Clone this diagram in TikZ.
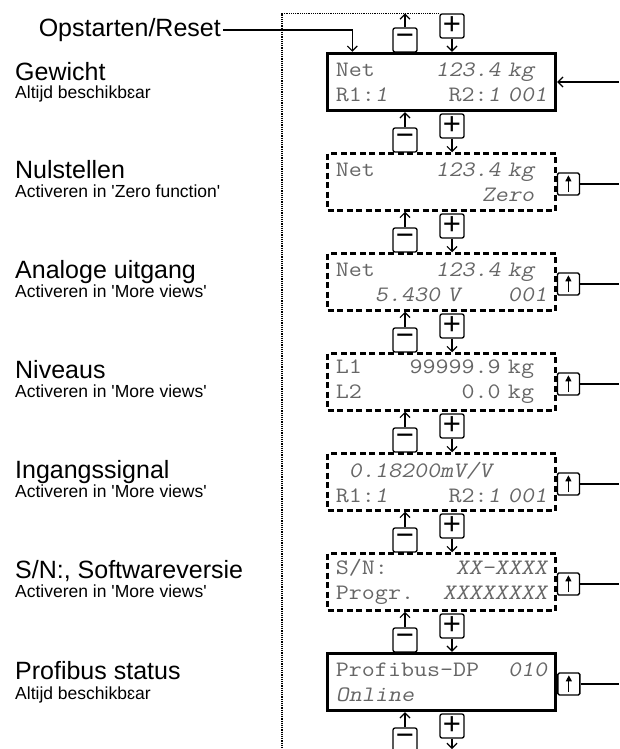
\documentclass[tikz,border=0pt]{standalone}
\usepackage{fontspec}
\setmainfont{Liberation Sans}
\setmonofont{Latin Modern Mono}[FakeStretch=1.15,
  ItalicFont=Latin Modern Mono, ItalicFeatures={FakeSlant=0.2}]
\usetikzlibrary{arrows.meta}
\newcommand{\lcdfont}{\fontsize{22}{25}\selectfont\ttfamily}
\newcommand{\titlefont}{\fontsize{25}{28}\selectfont}
\newcommand{\descfont}{\fontsize{17.5}{20}\selectfont}
\newcommand{\q}{\textquotesingle}

\begin{document}
\begin{tikzpicture}[x=1pt,y=-1pt,
    >={Straight Barb[length=5pt,width=10pt]},
    lcd/.style={draw,line width=3.4pt,minimum width=228pt,minimum height=57pt,
      inner sep=0pt,text width=211.2pt,align=left,text=black!60,font=\lcdfont},
    lcd dashed/.style={lcd,line width=2.5pt,dash pattern=on 6pt off 3.5pt},
    key/.style={draw,line width=1.3pt,rounded corners=2pt,minimum size=24pt,
      inner sep=0pt,font=\fontsize{31}{31}\selectfont},
    up key/.style={draw,line width=1.3pt,rounded corners=1.5pt,minimum size=22pt,
      inner sep=0pt,anchor=west},
    title/.style={anchor=base west,inner sep=0pt,font=\titlefont},
    desc/.style={anchor=base west,inner sep=0pt,font=\descfont},
    conn/.style={line width=1.2pt}]

  \useasboundingbox (0,0) rectangle (619,749);
  \clip (0,0) rectangle (619,749);
  \coordinate (edge) at (619,0);

  % displays
  \node[lcd] (d1) at (441.5,82) {Net\hfill{\itshape 123.4 kg}\phantom{0}\\
    R1:{\itshape 1}\hfill R2:{\itshape 1 001}};
  \node[lcd dashed] (d2) at (441.5,182) {Net\hfill{\itshape 123.4 kg}\phantom{0}\\
    \mbox{}\hfill{\itshape Zero}\phantom{0}};
  \node[lcd dashed] (d3) at (441.5,282) {Net\hfill{\itshape 123.4 kg}\phantom{0}\\
    {\itshape\phantom{000}5.430 V\hfill 001}};
  \node[lcd dashed] (d4) at (441.5,382) {L1\hfill 99999.9 kg\phantom{0}\\
    L2\hfill 0.0 kg\phantom{0}};
  \node[lcd dashed] (d5) at (441.5,482) {{\itshape\phantom{0}0.18200mV/V}\\
    R1:{\itshape 1}\hfill R2:{\itshape 1 001}};
  \node[lcd dashed] (d6) at (441.5,582) {S/N:\hfill{\itshape XX-XXXX}\\
    Progr.\hfill{\itshape XXXXXXXX}};
  \node[lcd] (d7) at (441.5,682) {Profibus-DP\hfill{\itshape 010}\\
    {\itshape Online}};

  % labels
  \node[title] (t1) at (15,81) {Gewicht};
  \node[desc] (s1) at (15,99) {Altijd beschikbɛar};
  \node[title] (t2) at (15,178) {Nulstellen};
  \node[desc] (s2) at (15,197) {Activeren in \q Zero function\q};
  \node[title] (t3) at (15,278) {Analoge uitgang};
  \node[desc] (s3) at (15,297) {Activeren in \q More views\q};
  \node[title] (t4) at (15,378) {Niveaus};
  \node[desc] (s4) at (15,397) {Activeren in \q More views\q};
  \node[title] (t5) at (15,478) {Ingangssignal};
  \node[desc] (s5) at (15,497) {Activeren in \q More views\q};
  \node[title] (t6) at (15,578) {S/N:, Softwareversie};
  \node[desc] (s6) at (15,597) {Activeren in \q More views\q};
  \node[title] (t7) at (15,679) {Profibus status};
  \node[desc] (s7) at (15,699) {Altijd beschikbɛar};

  \node[anchor=east,inner sep=0pt,font=\titlefont] (reset) at (221,30) {Opstarten/Reset};
  \draw[conn,->] ([xshift=2pt]reset.east) -| ([xshift=26.5pt]d1.north west);
  \draw[conn,<-] (d1.east) -- (d1.east -| edge);

  % plus / minus keys
  \foreach \i in {0,...,7}{
    \node[key] (p\i) at (452,26+100*\i) {+};
    \node[key] (m\i) at (405,40+100*\i) {−};
  }
  \draw[densely dotted,line width=1.2pt] (p0.north west) -- (282,13.35) -- (282,749);
  \draw[conn,->] (m0) -- (m0 |- p0.north);
  \foreach \i [evaluate=\i as \j using int(\i+1)] in {0,...,6}
    \draw[conn,->] (p\i) -- (p\i |- d\j.north);
  \draw[conn,->] (p7) -- (p7 |- 0,749);
  \foreach \i in {1,...,7}
    \draw[conn,->] (m\i) -- (m\i |- d\i.south);

  % up keys
  \foreach \i in {2,...,7}{
    \node[up key] (k\i) at ([yshift=-2pt]d\i.east) {};
    \draw[line width=1pt,-{Triangle[length=6pt,width=6pt]}]
      ([yshift=4pt]k\i.south) -- ([yshift=-3pt]k\i.north);
    \draw[conn] (k\i.east) -- (k\i.east -| edge);
  }
\end{tikzpicture}
\end{document}
